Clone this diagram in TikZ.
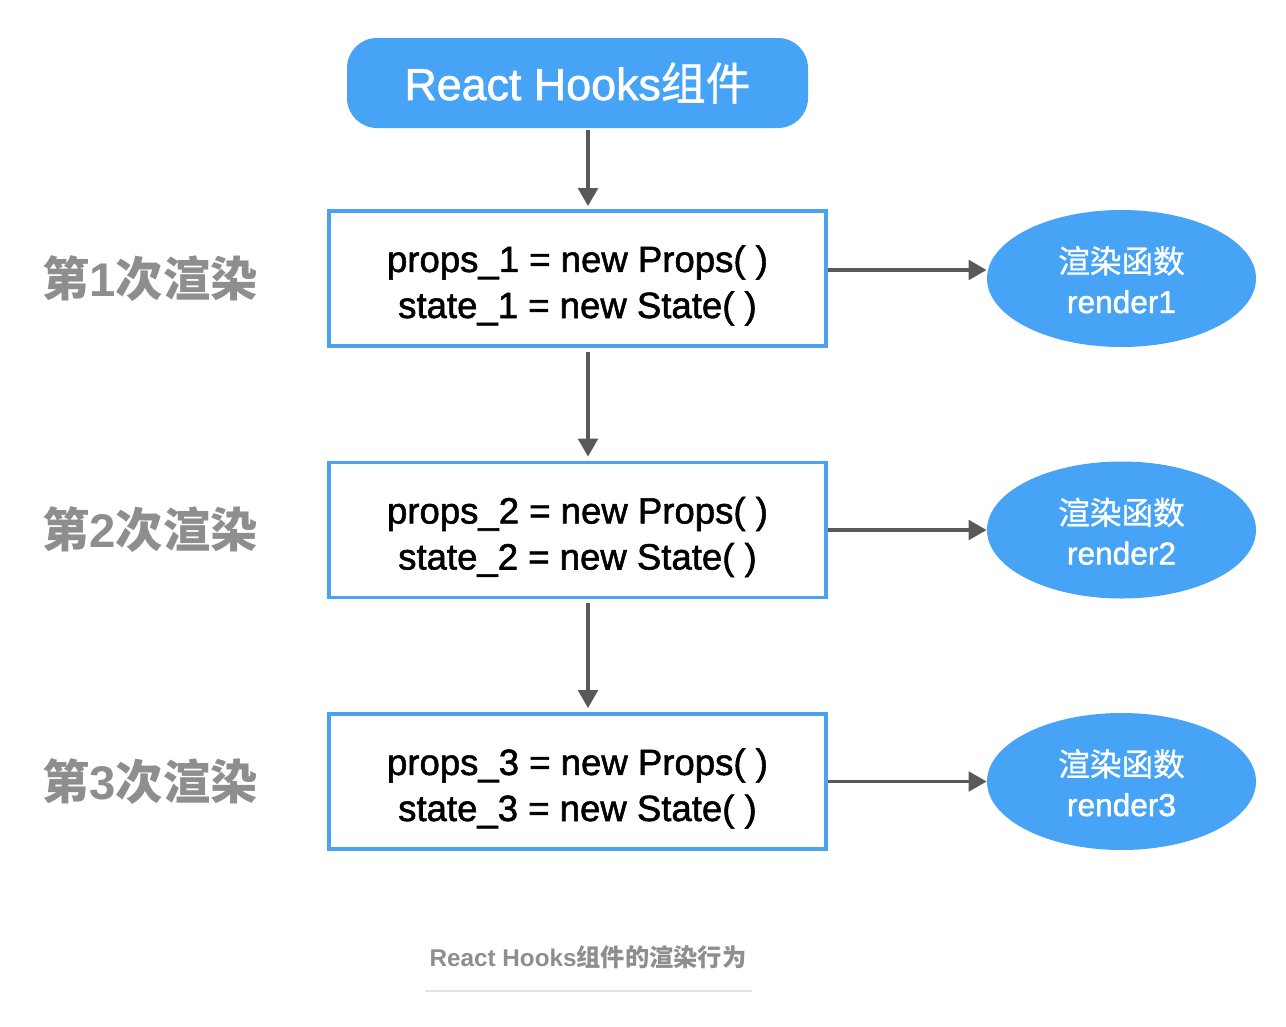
\documentclass[tikz,border=0pt]{standalone}
\usepackage{fontspec}
\setmainfont{Liberation Sans}
\newfontfamily\cjk{Noto Sans CJK SC}
\newfontfamily\medsans[FakeBold=1.5]{Liberation Sans}
\newfontfamily\medcjk[FakeBold=1]{Noto Sans CJK SC}
\usetikzlibrary{arrows.meta,shapes.geometric,positioning}
\definecolor{hookblue}{HTML}{46A3F6}
\definecolor{edgeblue}{HTML}{4AA3F0}
\definecolor{flowgray}{HTML}{595959}
\definecolor{labelgray}{HTML}{8E8E8E}
\definecolor{rulegray}{HTML}{E3E3E3}

\begin{document}
\begin{tikzpicture}[
	hooksbox/.style={draw=none,fill=hookblue,rounded corners=0.6cm,minimum width=9.22cm,minimum height=1.8cm,text=white,font=\fontsize{25.5}{30}\selectfont\medsans},
	renderbox/.style={draw=edgeblue,line width=2.1pt,fill=white,minimum width=9.94cm,minimum height=2.7cm,align=center,text height=1.58cm,text depth=0pt,font=\fontsize{20.8}{26.2}\selectfont\medsans},
	funcnode/.style={ellipse,fill=hookblue,minimum width=5.38cm,minimum height=2.74cm,inner sep=0pt,text=white,align=center,text height=1.38cm,text depth=0pt,font=\fontsize{18}{22.8}\selectfont\medsans},
	rowlabel/.style={text=labelgray,font=\fontsize{26.9}{30}\selectfont\bfseries},
	flow/.style={draw=flowgray,line width=2pt,-{Triangle[length=0.36cm,width=0.39cm]}}
]

	\useasboundingbox (0,0) rectangle (25.72,-20.52);

	%top component
	\node[hooksbox] (hooks) at (11.55,-1.66) {React Hooks{\medcjk 组件}};

	%render boxes
	\node[renderbox] (box1) at (11.55,-5.57) {props\_1 = new Props( )\\state\_1 = new State( )};
	\node[renderbox] (box2) at (11.55,-10.6) {props\_2 = new Props( )\\state\_2 = new State( )};
	\node[renderbox] (box3) at (11.55,-15.63) {props\_3 = new Props( )\\state\_3 = new State( )};

	%render functions
	\node[funcnode] (func1) at (22.43,-5.57) {{\medcjk 渲染函数}\\render1};
	\node[funcnode] (func2) at (22.43,-10.6) {{\medcjk 渲染函数}\\render2};
	\node[funcnode] (func3) at (22.43,-15.63) {{\medcjk 渲染函数}\\render3};

	%row labels
	\node[rowlabel] (label1) at (3.0,-5.57) {{\cjk 第}1{\cjk 次渲染}};
	\node[rowlabel] (label2) at (3.0,-10.6) {{\cjk 第}2{\cjk 次渲染}};
	\node[rowlabel] (label3) at (3.0,-15.63) {{\cjk 第}3{\cjk 次渲染}};

	%vertical flow
	\draw[flow] ([xshift=0.21cm,yshift=-0.04cm]hooks.south) -- ([xshift=0.21cm,yshift=0.06cm]box1.north);
	\draw[flow] ([xshift=0.21cm,yshift=-0.08cm]box1.south) -- ([xshift=0.21cm,yshift=0.08cm]box2.north);
	\draw[flow] ([xshift=0.21cm,yshift=-0.08cm]box2.south) -- ([xshift=0.21cm,yshift=0.08cm]box3.north);

	%horizontal flow
	\draw[flow] ([yshift=0.17cm]box1.east) -- ([yshift=0.17cm]box1.east -| func1.west);
	\draw[flow] (box2.east) -- (func2.west);
	\draw[flow] (box3.east) -- (func3.west);

	%caption
	\node[text=labelgray,font=\fontsize{13.8}{16}\selectfont\bfseries] (caption) at (11.76,-19.14) {React Hooks{\cjk 组件的渲染行为}};
	\coordinate (ruleL) at (8.5,-19.82);
	\coordinate (ruleR) at (15.04,-19.82);
	\draw[rulegray,line width=1.1pt] (ruleL) -- (ruleR);

\end{tikzpicture}
\end{document}
